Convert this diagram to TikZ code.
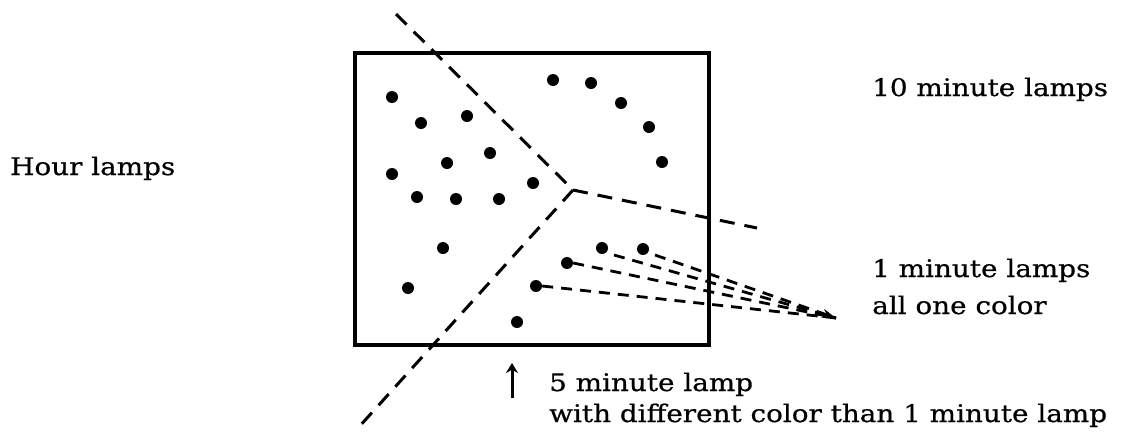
\documentclass[tikz,border=0pt]{standalone}
\usepackage{fontspec}
\setmainfont[FakeStretch=1.15,FakeBold=0.6]{DejaVu Serif}
\usetikzlibrary{arrows.meta}
\begin{document}
\begin{tikzpicture}[x=1pt,y=-1pt,
  lamp/.style={circle,fill=black,inner sep=0pt,minimum size=12pt},
  longdash/.style={line width=3pt,dash pattern=on 15pt off 10pt},
  shortdash/.style={line width=2.8pt,dash pattern=on 11pt off 8pt},
  lbl/.style={anchor=base west,inner sep=0pt,font=\fontsize{24.2}{28}\selectfont}]
\useasboundingbox (0,0) rectangle (1126,432);
\draw[line width=3.2pt] (355,53) rectangle (709,345);
% hour lamps
\foreach \n/\x/\y in {h1/392/97,h2/421/123,h3/467/116,h4/490/153,h5/447/163,h6/392/174,
  h7/417/197,h8/456/199,h9/499/199,h10/533/183,h11/443/248,h12/408/288}
  \node[lamp] (\n) at (\x,\y) {};
% 10 minute lamps
\foreach \n/\x/\y in {t1/553/80,t2/591/83,t3/621/103,t4/649/127,t5/662/162}
  \node[lamp] (\n) at (\x,\y) {};
% 1 minute lamps
\foreach \n/\x/\y in {m1/536/286,m2/567/263,m3/602/248,m4/643/249}
  \node[lamp] (\n) at (\x,\y) {};
% 5 minute lamp
\node[lamp] (f1) at (517,322) {};
% dividing lines
\coordinate (J) at (573,190);
\coordinate (A) at (396,14);
\coordinate (B) at (757,228);
\coordinate (C) at (358,428);
\draw[longdash] (A) -- (J);
\draw[longdash] (J) -- (B);
\draw[longdash] (J) -- (C);
% pointer lines
\coordinate (tip) at (836,318);
\coordinate (s3) at (614,255);
\coordinate (s4) at (655,255);
\draw[shortdash] (m1.east) -- (tip);
\draw[shortdash] (m2.east) -- (tip);
\draw[shortdash] (s3) -- (tip);
\draw[shortdash,-{Stealth[length=14pt,width=9pt]}] (s4) -- (tip);
% arrow for 5 minute lamp
\coordinate (a1) at (512,398);
\coordinate (a2) at (512,363);
\draw[line width=3pt,-{Stealth[length=10pt,width=12pt]}] (a1) -- (a2);
% labels
\node[lbl] (hl) at (10,175) {Hour lamps};
\node[lbl] (tl) at (872,96) {10 minute lamps};
\node[lbl] (ol1) at (872,277) {1 minute lamps};
\node[lbl] (ol2) at (872,314) {all one color};
\node[lbl] (fl1) at (549,391) {5 minute lamp};
\node[lbl] (fl2) at (549,422) {with different color than 1 minute lamp};
\end{tikzpicture}
\end{document}
